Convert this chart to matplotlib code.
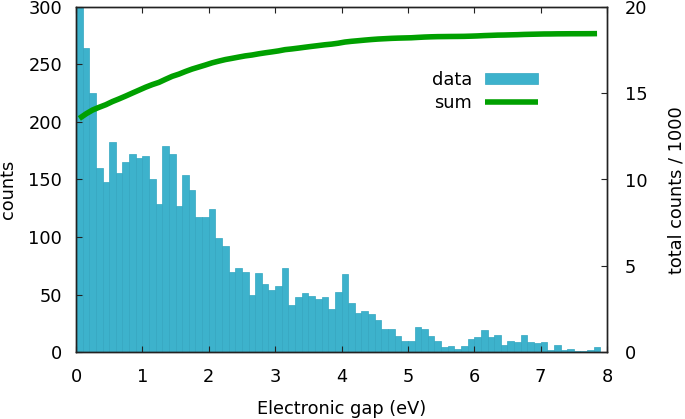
import numpy as np
import matplotlib
matplotlib.use("Agg")
import matplotlib.pyplot as plt

# Histogram of electronic gaps: bins of 0.1 eV starting at 0 (left edges)
bin_width = 0.1
counts = [13540,
          264, 225, 160, 148, 183, 156, 165, 172, 169, 170,
          150, 129, 179, 172, 127, 154, 141, 117, 117, 124,
          99, 92, 70, 73, 70, 50, 69, 59, 54, 57,
          73, 41, 48, 51, 49, 46, 48, 37, 52, 68,
          43, 34, 36, 33, 28, 20, 20, 14, 10, 10,
          22, 20, 14, 10, 4, 5, 3, 5, 11, 13,
          19, 13, 15, 6, 10, 9, 15, 9, 8, 9,
          2, 6, 2, 3, 1, 1, 2, 4]
x_ticks = [0, 1, 2, 3, 4, 5, 6, 7, 8]
left_ticks = [0, 50, 100, 150, 200, 250, 300]
right_ticks = [0, 5, 10, 15, 20]

counts = np.array(counts, dtype=float)
left_edges = np.arange(len(counts)) * bin_width
centers = left_edges + bin_width / 2
cum_k = np.cumsum(counts) / 1000.0

bar_color = "#3db2cc"
line_color = "#00a000"
fs = 12.8

fig = plt.figure(figsize=(6.85, 4.19), dpi=100)
ax = fig.add_axes([76/685, 1 - 352/419, (607-76)/685, (352-7)/419])

bars = ax.bar(left_edges, counts, width=bin_width, align="edge",
              color=bar_color, edgecolor="#34a6c0", linewidth=0.5, label="data")
ax.set_xlim(0, 8)
ax.set_ylim(0, 300)
ax.set_xticks(x_ticks)
ax.set_yticks(left_ticks)
ax.tick_params(axis="both", direction="in", length=4.5, width=0.8,
               labelsize=fs, colors="#222222", labelcolor="black")
ax.tick_params(axis="x", top=True, pad=11.5)
ax.tick_params(axis="y", pad=10)
ax.set_xlabel("Electronic gap (eV)", fontsize=fs)
ax.set_ylabel("counts", fontsize=fs)
ax.xaxis.set_label_coords(0.5, -0.164)
ax.yaxis.set_label_coords(-0.128, 0.47)
for lab in (ax.xaxis.label, ax.yaxis.label):
    lab.set_horizontalalignment("center")
    lab.set_verticalalignment("center")

ax2 = ax.twinx()
line, = ax2.plot(centers, cum_k, color=line_color, linewidth=4.0,
                 solid_capstyle="butt", label="sum")
ax2.set_ylim(0, 20)
ax2.set_yticks(right_ticks)
ax2.tick_params(axis="y", direction="in", length=4.5, width=0.8,
                labelsize=fs, pad=13, colors="#222222", labelcolor="black")
ax2.set_ylabel("total counts / 1000", fontsize=fs)
ax2.yaxis.set_label_coords(1.130, 0.47)
ax2.yaxis.label.set_horizontalalignment("center")
ax2.yaxis.label.set_verticalalignment("center")

for a in (ax, ax2):
    for s in a.spines.values():
        s.set_linewidth(1.0)
        s.set_color("#222222")

leg = ax2.legend([bars, line], ["data", "sum"], loc="upper left",
                 bbox_to_anchor=(0.670, 0.815), frameon=False, markerfirst=False,
                 fontsize=fs, handlelength=3.0, handleheight=0.56,
                 handletextpad=0.73, labelspacing=0.27, borderaxespad=0,
                 borderpad=0)

fig.savefig("out.png", dpi=100)
